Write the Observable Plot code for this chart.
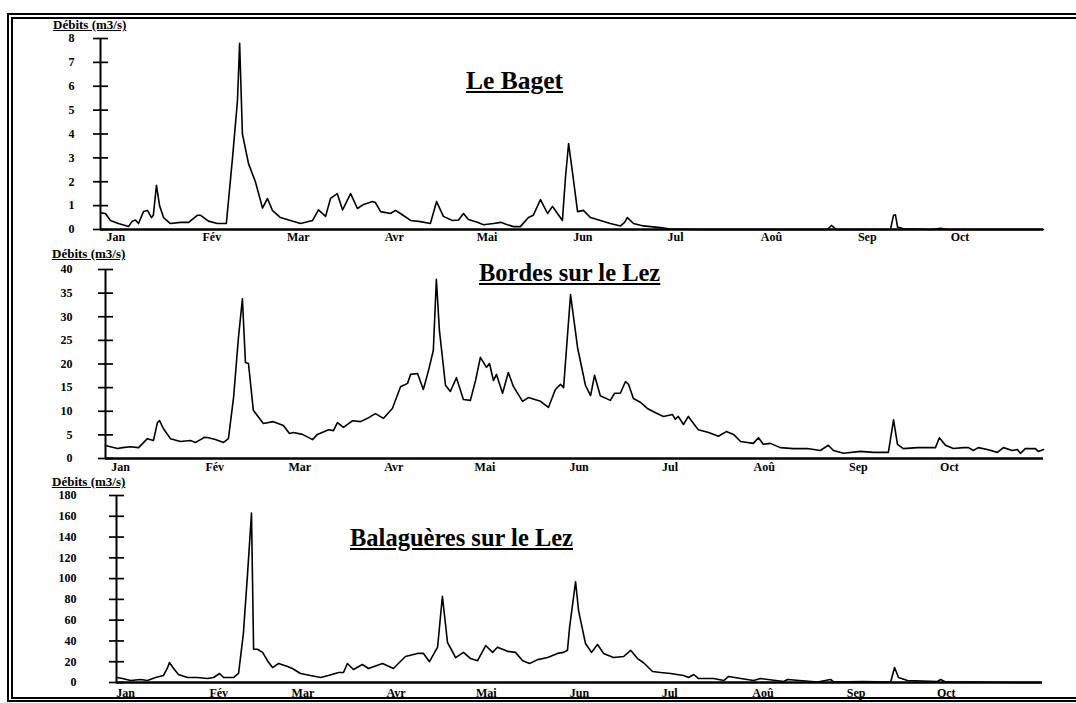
<!DOCTYPE html>
<html><head><meta charset="utf-8">
<script src="https://cdn.jsdelivr.net/npm/d3@7"></script>
<script src="https://cdn.jsdelivr.net/npm/@observablehq/plot@0.6"></script>
<style>
body{margin:0;background:#fff;}
#wrap{position:relative;width:1076px;height:703px;overflow:hidden;background:#fff;font-family:'Liberation Serif','DejaVu Serif',serif;color:#000;}
.panel{position:absolute;left:0;}
.title{position:absolute;font-weight:bold;text-decoration:underline;line-height:1;white-space:nowrap;}
.ylab{position:absolute;font-weight:bold;text-decoration:underline;font-size:13px;line-height:1;white-space:nowrap;}
#frame{position:absolute;left:7px;top:13px;width:1090px;height:678px;border-left:6px double #000;border-top:6px double #000;border-bottom:5px double #000;}
</style></head><body><div id="wrap"><div id="frame"></div></div>
<script>
// Month ticks (day of year, 0 = 1 Jan)
const monthStarts = [0, 31, 59, 90, 120, 151, 181, 212, 243, 273];
const monthLabels = ["Jan", "Fév", "Mar", "Avr", "Mai", "Jun", "Jul", "Aoû", "Sep", "Oct"];

// Le Baget (m3/s)
const bagetDays = [-5,-3.4,-1.8,0.8,4.1,5.3,6.3,7.3,8.9,10.2,11.5,12.1,13.1,14.1,15.4,17.6,20.9,23.5,26.4,27.3,29.9,32.8,35.7,37.7,39.3,40,40.9,42.9,45.1,47.4,49,50.6,53.2,56.4,59.7,63.6,65.5,67.8,69.4,71.6,73.3,75.9,78.1,80.1,83,83.9,85.6,88.8,90.4,92,95.3,98.5,101.7,103.7,105.9,108.8,110.8,112.4,114,116.9,118.9,122.1,124.4,126.6,128.6,130.8,133.4,135,137.3,139.6,141.2,142.8,144.4,145.4,146.4,147.7,149.3,151.2,153.5,156.7,159.9,163.2,164.5,165.4,167.4,170.6,176.1,179.3,189,230.1,231.4,233,245,250.5,251.5,252.1,252.8,254.7,264,266.7,269,300];
const bagetQ = [0.7,0.67,0.38,0.25,0.13,0.35,0.4,0.25,0.75,0.8,0.5,0.6,1.85,1.0,0.5,0.25,0.3,0.3,0.6,0.6,0.35,0.25,0.25,3.0,5.4,7.8,4.0,2.75,2.0,0.9,1.3,0.8,0.5,0.38,0.25,0.38,0.82,0.55,1.3,1.5,0.82,1.5,0.88,1.05,1.17,1.13,0.75,0.67,0.8,0.67,0.38,0.33,0.25,1.17,0.55,0.38,0.4,0.67,0.42,0.3,0.2,0.25,0.3,0.2,0.12,0.12,0.5,0.6,1.25,0.67,0.97,0.67,0.38,2.2,3.6,2.35,0.75,0.8,0.5,0.38,0.25,0.15,0.3,0.5,0.25,0.15,0.08,0.02,0,0,0.17,0,0,0,0.6,0.62,0.1,0.03,0,0.05,0,0];

// Bordes sur le Lez (m3/s)
const bordesDays = [-5,-3.4,-1.0,0.6,3.2,5.9,8.8,10.8,12.1,12.8,14.1,16.4,19.7,23.0,24.6,26.3,27.6,28.9,31.2,33.9,35.5,37.2,38.8,40.1,41.1,42.1,43.7,47.0,50.3,53.6,55.6,56.9,59.9,63.2,64.8,68.5,70.1,71.4,73.4,76.4,79.0,81.3,83.9,86.6,89.5,92.2,94.5,95.5,97.8,99.7,101.4,103.0,104.0,105.0,107.0,108.6,110.6,112.9,115.2,116.9,118.5,120.5,121.5,122.8,123.8,125.8,127.7,129.4,132.4,134.3,138.3,140.9,143.2,144.9,145.9,148.2,150.5,153.1,154.8,156.1,158.0,161.3,162.7,164.6,166.3,167.3,168.9,171.2,173.5,176.2,178.8,181.8,182.7,183.7,185.4,187.0,188.7,190.3,193.7,196.9,199.5,201.9,204.2,208.4,210.1,211.7,214.0,217.3,221.6,226.2,230.5,233.1,234.8,238.1,243.7,248.0,252.9,254.6,255.9,257.8,262.5,266.7,268.4,269.7,271.7,274.3,277.6,279.3,280.9,282.5,285.5,288.8,290.8,293.7,295.4,296.4,298.0,301.3,302.3,304.0];
const bordesQ = [2.75,2.5,2.1,2.3,2.5,2.3,4.2,3.8,7.6,8.0,6.3,4.2,3.6,3.8,3.4,4.0,4.5,4.4,4.0,3.4,4.2,13,25.6,33.8,20.3,20.1,10.2,7.4,7.8,7.0,5.3,5.5,5.1,4.0,5.1,6.1,5.9,7.6,6.6,8.0,7.8,8.5,9.5,8.5,10.6,15.2,15.9,17.8,18.0,14.6,18.6,22.9,37.9,27.1,15.5,14.2,17.1,12.5,12.3,16.5,21.4,19.3,20.1,16.5,17.8,13.8,18.2,15.2,12.1,12.9,12.1,10.8,14.6,15.7,15.0,34.7,23.5,15.5,13.3,17.6,13.3,12.3,13.8,13.8,16.3,15.7,12.7,11.9,10.6,9.7,8.9,9.3,8.3,8.9,7.2,8.9,7.4,6.1,5.5,4.7,5.7,5.1,3.6,3.2,4.4,3.0,3.2,2.3,2.1,2.1,1.7,2.8,1.7,1.1,1.5,1.3,1.3,8.2,3.0,2.1,2.3,2.3,2.3,4.4,2.8,2.1,2.3,2.3,1.7,2.3,1.9,1.3,2.3,1.7,1.9,1.1,2.1,2.1,1.5,1.9];

// Balaguères sur le Lez (m3/s)
const balagDays = [-3,-1,1.7,5,7.3,10,12.6,14,14.6,16,17.6,20.6,23.9,27.3,29.3,31.3,32.6,35.9,37.6,39.2,40.6,41.9,42.6,43.9,45.6,47.2,48.9,50.9,53.9,55.5,58.2,61.5,64.9,67.5,70.9,72.5,73.8,75.8,78.8,80.8,85.5,89.1,93.1,97.1,99.1,101.1,103.8,105.4,107.1,109.8,112.4,114.8,117.1,119.8,122.1,123.7,127.1,129.7,132.1,134.4,137.1,140.4,143.7,145.7,147.0,147.7,149.7,150.7,153.0,155.0,157.0,159.0,162.3,165.7,168.0,170.3,172.3,175.3,178.0,181.3,185.6,187.3,189.0,190.6,195.6,199.0,200.6,204.6,208.9,211.2,218.9,220.2,230.2,234.5,235.5,245.5,254.5,255.8,257.1,260.1,270.1,271.1,272.8,280.1,297.7,304.4];
const balagQ = [4.8,3.8,1.9,2.9,1.9,4.8,6.7,14.4,19.2,13.5,7.7,4.8,4.8,3.8,4.8,8.7,4.8,4.8,8.7,47,105,163,32,32,29,21,14.4,18.3,15.4,13.5,8.7,6.7,4.8,6.7,9.6,9.6,18.3,12.5,17.3,13.5,18.3,13.5,25,28,28,20,34,83,38.5,24,29,23,21,35.6,29,34,30,29,21,18.3,22,24,28,29,31,53,97,69,37.5,29,36.6,28,24,25,31,23,19,10.6,9.6,8.7,6.7,4.8,7.7,3.8,3.8,1.9,5.8,3.8,1.9,3.8,1,2.9,0.5,2.9,0.5,1,0.5,14.4,4.8,1.9,1,2.9,0.5,0.5,0,0];

const bagetTicks = [0,1,2,3,4,5,6,7,8];
const bordesTicks = [0,5,10,15,20,25,30,35,40];
const balagTicks = [0,20,40,60,80,100,120,140,160,180];

const FONT = "'Liberation Serif','DejaVu Serif',serif";
const wrap = document.getElementById("wrap");

function panel(o) {
  const data = o.days.map((d, i) => ({day: d, q: o.q[i]}));
  const chart = Plot.plot({
    width: 1076, height: o.height,
    marginLeft: o.left, marginRight: o.right, marginTop: o.mTop, marginBottom: o.mBottom,
    x: {type: "linear", domain: o.domain},
    y: {type: "linear", domain: [0, o.yMax]},
    style: {fontFamily: FONT, fontWeight: "bold", color: "#000", background: "transparent", overflow: "visible"},
    marks: [
      Plot.axisX({ticks: monthStarts, tickFormat: d => monthLabels[monthStarts.indexOf(d)], tickSize: 0, tickPadding: o.xPad, fontSize: 12, fontWeight: "bold", label: null}),
      Plot.axisY({ticks: o.yTicks, tickFormat: () => "", tickSize: 15, dx: 8, strokeWidth: 1.7, label: null}),
      Plot.axisY({ticks: o.yTicks, tickSize: 0, tickPadding: o.yPad, fontSize: 12, fontWeight: "bold", label: null}),
      Plot.ruleX([o.domain[0]], {y1: 0, y2: o.yMax, strokeWidth: 2}),
      Plot.ruleY([0], {strokeWidth: 2.5}),
      Plot.line(data, {x: "day", y: "q", stroke: "#000", strokeWidth: 1.6})
    ]
  });
  chart.classList.add("panel");
  chart.style.top = o.top + "px";
  wrap.appendChild(chart);
  const t = document.createElement("div");
  t.className = "title"; t.textContent = o.title;
  t.style.left = o.tx + "px"; t.style.top = o.ty + "px"; t.style.fontSize = o.tSize + "px";
  wrap.appendChild(t);
  const l = document.createElement("div");
  l.className = "ylab"; l.textContent = "Débits (m3/s)";
  l.style.left = o.lx + "px"; l.style.top = o.ly + "px";
  wrap.appendChild(l);
}

panel({days: bagetDays, q: bagetQ, domain: [-5, 300], yMax: 8, yTicks: bagetTicks,
  top: 0, height: 245, left: 100, right: 33, mTop: 38, mBottom: 16, xPad: 3, yPad: 26,
  title: "Le Baget", tx: 466, ty: 68, tSize: 25.5, lx: 53, ly: 18});
panel({days: bordesDays, q: bordesQ, domain: [-5, 304], yMax: 40, yTicks: bordesTicks,
  top: 245, height: 230, left: 105, right: 33, mTop: 24, mBottom: 17, xPad: 4, yPad: 33,
  title: "Bordes sur le Lez", tx: 479, ty: 261, tSize: 24.5, lx: 52, ly: 247});
panel({days: balagDays, q: balagQ, domain: [-3, 305], yMax: 180, yTicks: balagTicks,
  top: 475, height: 228, left: 116, right: 34, mTop: 20, mBottom: 21, xPad: 6, yPad: 40,
  title: "Balaguères sur le Lez", tx: 350, ty: 526, tSize: 24.5, lx: 52, ly: 475});
</script></body></html>
